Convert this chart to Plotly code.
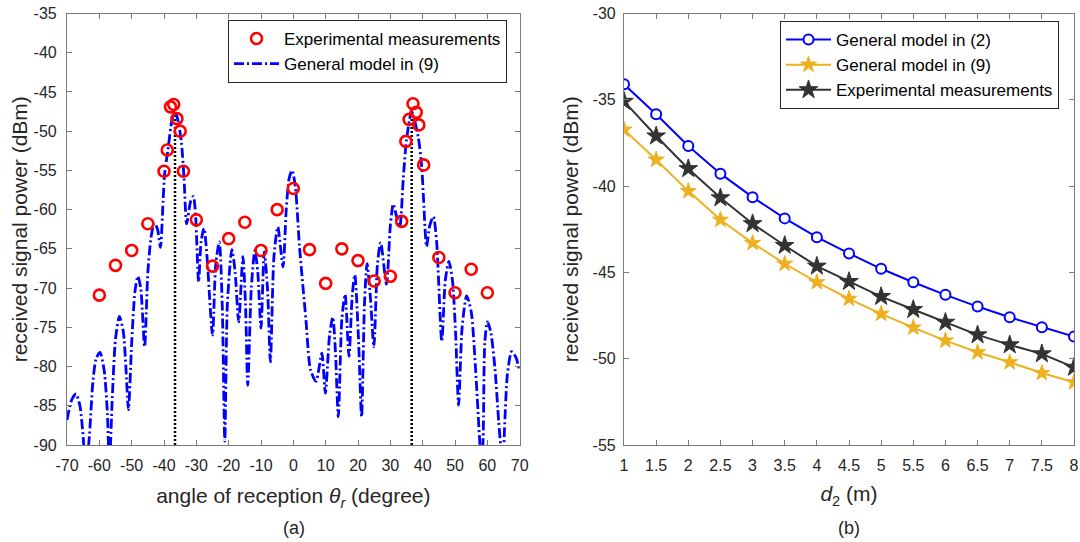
import plotly.graph_objects as go

# ---------------- Panel (a) data ----------------
model_angle = [-70.0, -68.5, -67.2, -66.0, -65.0, -64.3, -63.2, -62.0, -61.0, -59.8,
               -58.5, -57.5, -56.9, -56.0, -55.0, -53.8, -52.6, -51.8, -51.0, -50.0,
               -49.0, -48.1, -47.2, -46.0, -45.0, -44.0, -43.0, -42.0, -41.1, -40.3,
               -39.8, -38.8, -37.5, -36.6, -35.6, -34.6, -33.8, -33.0, -31.8, -30.9,
               -30.2, -29.3, -28.5, -27.6, -26.7, -25.0, -24.0, -22.9, -22.0, -21.2,
               -20.4, -19.0, -18.0, -16.9, -15.6, -14.8, -14.1, -13.0, -11.9, -11.0,
               -10.0, -9.0, -8.0, -7.1, -6.0, -4.8, -3.2, -2.2, -1.3, -0.4,
               0.6, 1.9, 3.9, 5.3, 7.0, 8.8, 9.9, 11.2, 12.2, 13.0,
               13.9, 15.0, 16.0, 17.2, 18.2, 19.0, 20.1, 21.1, 22.0, 22.8,
               23.8, 24.9, 26.0, 27.0, 28.8, 30.0, 30.9, 31.7, 32.9, 34.0,
               35.0, 36.6, 38.6, 39.7, 40.3, 41.2, 42.2, 43.3, 44.3, 45.9,
               47.0, 48.1, 49.2, 50.2, 51.1, 52.2, 53.6, 55.0, 56.3, 57.7,
               58.2, 58.7, 59.2, 60.0, 61.0, 62.3, 63.5, 64.3, 64.8, 65.3,
               66.2, 67.5, 68.8, 70.0]
model_power = [-86.8, -84.2, -83.5, -85.0, -89.0, -93.0, -89.5, -82.0, -79.0, -78.2,
               -80.5, -86.0, -93.0, -84.0, -76.5, -73.6, -75.5, -80.0, -85.5, -77.0,
               -70.5, -68.5, -70.0, -77.5, -68.0, -63.5, -61.7, -62.5, -64.8, -59.0,
               -55.4, -52.4, -48.5, -47.4, -48.8, -51.5, -56.0, -61.8, -59.0, -58.3,
               -61.0, -69.2, -64.0, -62.4, -66.0, -76.0, -67.0, -64.1, -72.0, -89.5,
               -72.0, -65.1, -68.0, -74.3, -66.0, -72.0, -82.4, -70.0, -65.2, -68.0,
               -75.1, -65.4, -70.0, -79.4, -66.0, -62.2, -67.3, -60.0, -56.0, -55.0,
               -57.0, -64.7, -74.1, -80.4, -81.9, -78.3, -83.4, -76.0, -73.7, -78.0,
               -86.4, -74.0, -70.8, -78.7, -71.0, -68.3, -76.0, -86.4, -72.0, -66.9,
               -71.0, -77.5, -67.0, -64.2, -69.5, -62.0, -59.3, -60.5, -62.2, -56.0,
               -51.1, -47.5, -50.7, -54.5, -59.0, -64.7, -62.0, -60.9, -64.0, -76.8,
               -69.0, -66.6, -69.0, -76.0, -84.9, -75.0, -71.0, -73.0, -80.0, -90.0,
               -93.0, -89.0, -77.0, -74.3, -75.5, -80.0, -87.0, -91.0, -93.0, -88.0,
               -81.0, -78.1, -78.8, -80.6]

meas_angle = [-60, -55, -50, -45, -40, -39, -38, -37, -36, -35, -34, -30, -25, -20,
              -15, -10, -5, 0, 5, 10, 15, 20, 25, 30, 33.5, 34.8, 35.8, 37.0, 38.0,
              38.8, 40.3, 45, 50, 55, 60]
meas_power = [-70.9, -67.1, -65.2, -61.8, -55.1, -52.4, -46.9, -46.6, -48.4, -50.0,
              -55.1, -61.3, -67.2, -63.7, -61.6, -65.2, -60.0, -57.3, -65.1, -69.4,
              -65.0, -66.5, -69.1, -68.5, -61.5, -51.3, -48.5, -46.5, -47.6, -49.2,
              -54.3, -66.1, -70.6, -67.6, -70.6]

peak_angles = [-36.6, 36.6]
peak_top = -48.0
axis_floor = -90.0

x_ticks_a = list(range(-70, 71, 10))
x_ticklabels_a = [str(v) for v in x_ticks_a]
y_ticks_a = list(range(-90, -34, 5))
y_ticklabels_a = [str(v) for v in y_ticks_a]

# ---------------- Panel (b) data ----------------
d2 = [1, 1.5, 2, 2.5, 3, 3.5, 4, 4.5, 5, 5.5, 6, 6.5, 7, 7.5, 8]
model2 = [-34.1, -35.84, -37.68, -39.28, -40.64, -41.87, -42.96, -43.9, -44.79,
          -45.57, -46.3, -46.98, -47.6, -48.18, -48.72]
model9 = [-36.73, -38.47, -40.29, -41.95, -43.3, -44.5, -45.57, -46.53, -47.4,
          -48.2, -48.95, -49.63, -50.21, -50.83, -51.37]
measured = [-35.09, -37.1, -38.99, -40.68, -42.18, -43.44, -44.64, -45.53, -46.4,
            -47.15, -47.89, -48.62, -49.2, -49.72, -50.5]
x_ticks_b = d2
x_ticklabels_b = ["1", "1.5", "2", "2.5", "3", "3.5", "4", "4.5", "5", "5.5", "6",
                  "6.5", "7", "7.5", "8"]
y_ticks_b = [-55, -50, -45, -40, -35, -30]
y_ticklabels_b = [str(v) for v in y_ticks_b]

FONT = "Liberation Sans, Arial, Helvetica, sans-serif"
AXC = "#7a7a7a"
TXC = "#262626"

fig = go.Figure()

# model curve (a)
fig.add_trace(go.Scatter(
    x=model_angle, y=model_power, mode="lines", name="General model in (9)",
    line=dict(color="#0000ff", width=2.8, dash="10px,3px,2px,3px", shape="spline", smoothing=0.7),
    xaxis="x", yaxis="y", legend="legend", legendrank=2))
# dotted peak markers
for a in peak_angles:
    fig.add_trace(go.Scatter(
        x=[a, a], y=[axis_floor, peak_top], mode="lines", showlegend=False,
        line=dict(color="black", width=2.5, dash="2px,2px"), xaxis="x", yaxis="y",
        hoverinfo="skip"))
# measurements (a)
fig.add_trace(go.Scatter(
    x=meas_angle, y=meas_power, mode="markers", name="Experimental measurements",
    marker=dict(symbol="circle-open", size=11, color="#ff0000", line=dict(width=2.6, color="#ff0000")),
    xaxis="x", yaxis="y", legend="legend", legendrank=1))

# panel (b)
fig.add_trace(go.Scatter(
    x=d2, y=model2, mode="lines+markers", name="General model in (2)",
    line=dict(color="#0000ff", width=2),
    marker=dict(symbol="circle", size=10, color="white", line=dict(color="#0000ff", width=2)),
    xaxis="x2", yaxis="y2", legend="legend2"))
fig.add_trace(go.Scatter(
    x=d2, y=model9, mode="lines+markers", name="General model in (9)",
    line=dict(color="#EDB120", width=2),
    marker=dict(symbol="star", size=12, color="#EDB120", line=dict(color="#EDB120", width=1)),
    xaxis="x2", yaxis="y2", legend="legend2"))
fig.add_trace(go.Scatter(
    x=d2, y=measured, mode="lines+markers", name="Experimental measurements",
    line=dict(color="#333333", width=2),
    marker=dict(symbol="star", size=14, color="#333333", line=dict(color="#333333", width=1)),
    xaxis="x2", yaxis="y2", legend="legend2"))

ydom = [1 - 445 / 542, 1 - 13.5 / 542]

axis_common = dict(
    showline=True, linecolor=AXC, linewidth=1.2, mirror="ticks",
    ticks="inside", ticklen=5, tickcolor=AXC, tickwidth=1,
    showgrid=False, zeroline=False, automargin=False,
    tickfont=dict(family=FONT, size=16, color=TXC),
)

fig.update_layout(
    width=1080, height=542,
    margin=dict(l=0, r=0, t=0, b=0),
    paper_bgcolor="white", plot_bgcolor="white",
    font=dict(family=FONT, color=TXC),
    xaxis=dict(domain=[67 / 1080, 519.7 / 1080], range=[-70, 70],
               tickmode="array", tickvals=x_ticks_a, ticktext=x_ticklabels_a,
               ticklabelstandoff=6,
               title=dict(text="angle of reception <i>θ</i><sub><i>r</i></sub> (degree)",
                          font=dict(family=FONT, size=21, color=TXC), standoff=15),
               anchor="y", **axis_common),
    yaxis=dict(domain=ydom, range=[-90, -35], tickmode="array", tickvals=y_ticks_a,
               ticktext=y_ticklabels_a, ticklabelstandoff=6,
               title=dict(text="received signal power (dBm)",
                          font=dict(family=FONT, size=21, color=TXC), standoff=0),
               anchor="x", **axis_common),
    xaxis2=dict(domain=[624 / 1080, 1074 / 1080], range=[1, 8],
                tickmode="array", tickvals=x_ticks_b, ticktext=x_ticklabels_b,
                ticklabelstandoff=6,
                title=dict(text="<i>d</i><sub>2</sub> (m)",
                           font=dict(family=FONT, size=21, color=TXC), standoff=13),
                anchor="y2", **axis_common),
    yaxis2=dict(domain=ydom, range=[-55, -30], tickmode="array", tickvals=y_ticks_b,
                ticktext=y_ticklabels_b, ticklabelstandoff=4,
                title=dict(text="received signal power (dBm)",
                           font=dict(family=FONT, size=21, color=TXC), standoff=8),
                anchor="x2", **axis_common),
    legend=dict(x=228 / 1080, y=1 - 20 / 542, xanchor="left", yanchor="top",
                bgcolor="white", bordercolor="#262626", borderwidth=1,
                font=dict(family=FONT, size=17, color="black"), itemwidth=45,
                tracegroupgap=0),
    legend2=dict(x=780 / 1080, y=1 - 21 / 542, xanchor="left", yanchor="top",
                 bgcolor="white", bordercolor="#262626", borderwidth=1,
                 font=dict(family=FONT, size=17, color="black"), itemwidth=45,
                 tracegroupgap=0),
    annotations=[
        dict(text="(a)", x=293.6 / 1080, y=1 - 528 / 542, xref="paper", yref="paper",
             xanchor="center", yanchor="middle",
             showarrow=False, font=dict(family=FONT, size=18, color=TXC)),
        dict(text="(b)", x=849 / 1080, y=1 - 528 / 542, xref="paper", yref="paper",
             xanchor="center", yanchor="middle",
             showarrow=False, font=dict(family=FONT, size=18, color=TXC)),
    ],
)

fig.write_html("out.html", config={"displayModeBar": False},
               post_script="document.body.style.margin='0';document.body.style.overflow='hidden';")
